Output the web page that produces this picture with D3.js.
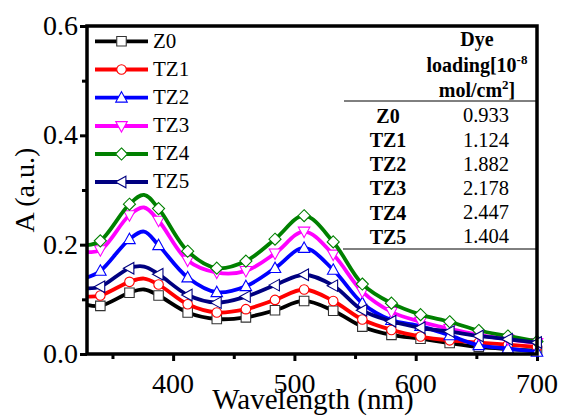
<!DOCTYPE html>
<html><head>
<script src="https://cdn.jsdelivr.net/npm/d3@7"></script>
</head>
<body style="margin:0;background:#fff">
<div id="wrap" style="position:relative;width:561px;height:416px;overflow:hidden">
<svg id="c" width="561" height="416" style="position:absolute;left:0;top:0"></svg>
</div>
<script>
// ---------- data ----------
const wavelengths = [329, 340, 364, 376, 388, 412, 436, 460, 484, 508, 532, 556, 580, 604, 628, 652, 676, 700];
const markerWavelengths = [340, 364, 388, 412, 436, 460, 484, 508, 532, 556, 580, 604, 628, 652, 676, 700];
const seriesNames = ["Z0", "TZ1", "TZ2", "TZ3", "TZ4", "TZ5"];
const Z0  = [0.090, 0.088, 0.112, 0.118, 0.107, 0.076, 0.064, 0.067, 0.080, 0.097, 0.079, 0.050, 0.035, 0.028, 0.020, 0.013, 0.009, 0.006];
const TZ1 = [0.105, 0.107, 0.132, 0.138, 0.127, 0.091, 0.076, 0.082, 0.099, 0.118, 0.097, 0.063, 0.044, 0.032, 0.025, 0.021, 0.017, 0.013];
const TZ2 = [0.140, 0.152, 0.210, 0.224, 0.199, 0.140, 0.113, 0.124, 0.157, 0.194, 0.154, 0.093, 0.062, 0.051, 0.034, 0.016, 0.010, 0.004];
const TZ3 = [0.187, 0.190, 0.254, 0.268, 0.244, 0.171, 0.149, 0.152, 0.184, 0.224, 0.182, 0.114, 0.077, 0.059, 0.046, 0.035, 0.027, 0.020];
const TZ4 = [0.199, 0.207, 0.274, 0.291, 0.266, 0.188, 0.157, 0.170, 0.210, 0.253, 0.205, 0.128, 0.093, 0.072, 0.059, 0.043, 0.033, 0.023];
const TZ5 = [0.120, 0.123, 0.157, 0.160, 0.146, 0.108, 0.094, 0.105, 0.126, 0.145, 0.125, 0.080, 0.060, 0.048, 0.041, 0.033, 0.027, 0.021];
const seriesValues = [Z0, TZ1, TZ2, TZ3, TZ4, TZ5];
const xTicks = [400, 500, 600, 700];
const xMinorTicks = [350, 450, 550, 650];
const yTicks = [0.0, 0.2, 0.4, 0.6];
const yMinorTicks = [0.1, 0.3, 0.5];
const tableSamples = ["Z0", "TZ1", "TZ2", "TZ3", "TZ4", "TZ5"];
const tableLoading = ["0.933", "1.124", "1.882", "2.178", "2.447", "1.404"];

// ---------- styles ----------
const FONT = "'Liberation Serif'";
const colors = ["#000000", "#ff0000", "#0000ff", "#ff00ff", "#008000", "#000080"];
const markerStroke = ["#333333", "#ff0000", "#0000ff", "#ff00ff", "#008000", "#000080"];
const symbols = ["square", "circle", "triUp", "triDown", "diamond", "triLeft"];

const wrap = d3.select("#wrap");
const svg = d3.select("#c");
const L = 87, R = 537, T = 26, B = 354;
const x = d3.scaleLinear().domain([329, 700]).range([L, R]);
const y = d3.scaleLinear().domain([0, 0.6]).range([B, T]);

// HTML text labels positioned by baseline
function addLabel(tx, baseline, size, html, opts = {}) {
  const shift = opts.anchor === "middle" ? "translateX(-50%)" : opts.anchor === "end" ? "translateX(-100%)" : "";
  return wrap.append("div")
    .style("position", "absolute")
    .style("left", tx + "px")
    .style("top", (baseline - 0.8375 * size) + "px")
    .style("font-family", FONT)
    .style("font-size", size + "px")
    .style("line-height", "1")
    .style("white-space", "nowrap")
    .style("color", "#000")
    .style("font-weight", opts.bold ? "bold" : "normal")
    .style("transform", shift)
    .html(html);
}

function markerPath(type, s) {
  const h = s / 2;
  switch (type) {
    case "square": return `M${-h},${-h}H${h}V${h}H${-h}Z`;
    case "circle": return d3.arc()({innerRadius:0, outerRadius:h, startAngle:0, endAngle:2*Math.PI});
    case "triUp": return `M0,${-h*1.1}L${h*1.05},${h*0.8}L${-h*1.05},${h*0.8}Z`;
    case "triDown": return `M0,${h*1.1}L${h*1.05},${-h*0.8}L${-h*1.05},${-h*0.8}Z`;
    case "triLeft": return `M${-h*1.1},0L${h*0.8},${-h*1.05}L${h*0.8},${h*1.05}Z`;
    case "diamond": return `M0,${-h*1.15}L${h*1.15},0L0,${h*1.15}L${-h*1.15},0Z`;
  }
}
const markerSize = [9.5, 9.5, 11, 11, 10.5, 11];

// ---------- axes (tick marks via d3 axes) ----------
function tickAxis(axis, transform) {
  const g = svg.append("g").attr("transform", transform).call(axis);
  g.select(".domain").remove();
  g.selectAll(".tick text").remove();
  g.selectAll(".tick line").attr("stroke-width", 3);
  return g;
}
tickAxis(d3.axisBottom(x).tickValues(xTicks).tickSize(7), `translate(0,${B})`);
tickAxis(d3.axisBottom(x).tickValues(xMinorTicks).tickSize(5), `translate(0,${B})`);
tickAxis(d3.axisLeft(y).tickValues(yTicks).tickSize(7), `translate(${L},0)`);
tickAxis(d3.axisLeft(y).tickValues(yMinorTicks).tickSize(5), `translate(${L},0)`);

xTicks.forEach(v => addLabel(x(v), 393.5, 28, d3.format("d")(v), {anchor: "middle"}));
yTicks.forEach(v => addLabel(78, y(v) + 9.5, 28, d3.format(".1f")(v), {anchor: "end"}));

// ---------- data lines ----------
const line = d3.line().x(d => x(d[0])).y(d => y(d[1])).curve(d3.curveCatmullRom.alpha(0.5));
seriesValues.forEach((vals, i) => {
  const pts = wavelengths.map((w, k) => [w, vals[k]]);
  svg.append("path").attr("d", line(pts)).attr("fill", "none")
    .attr("stroke", colors[i]).attr("stroke-width", 3.8).attr("stroke-linejoin", "round");
  const mk = pts.filter(p => markerWavelengths.includes(p[0]));
  svg.append("g").selectAll("path").data(mk).join("path")
    .attr("d", markerPath(symbols[i], markerSize[i]))
    .attr("transform", d => `translate(${x(d[0])},${y(d[1])})`)
    .attr("fill", "#fff").attr("stroke", markerStroke[i]).attr("stroke-width", 1.1);
});

// ---------- frame ----------
svg.append("rect").attr("x", L).attr("y", T).attr("width", R - L).attr("height", B - T)
  .attr("fill", "none").attr("stroke", "#000").attr("stroke-width", 3.5);

// ---------- legend ----------
const legendRows = [41.3, 69.5, 97.7, 126, 154, 182];
seriesNames.forEach((name, i) => {
  const ry = legendRows[i];
  svg.append("line").attr("x1", 95).attr("x2", 148).attr("y1", ry).attr("y2", ry)
    .attr("stroke", colors[i]).attr("stroke-width", 3.8);
  svg.append("path").attr("d", markerPath(symbols[i], markerSize[i]))
    .attr("transform", `translate(121.5,${ry})`)
    .attr("fill", "#fff").attr("stroke", markerStroke[i]).attr("stroke-width", 1.1);
  addLabel(153, ry + 7, 21, name);
});

// ---------- table ----------
const hx = 477;
const sup = s => `<span style="position:relative;top:-8px;font-size:13px">${s}</span>`;
addLabel(hx, 46, 20, "Dye", {anchor: "middle", bold: true});
addLabel(hx, 71.5, 20, "loading[10" + sup("-8"), {anchor: "middle", bold: true});
addLabel(hx, 96.5, 20, "mol/cm" + sup("2") + "]", {anchor: "middle", bold: true});
svg.append("line").attr("x1", 344).attr("x2", R).attr("y1", 101).attr("y2", 101)
  .attr("stroke", "#000").attr("stroke-width", 1);
tableSamples.forEach((s, i) => {
  const by = 122.5 + i * 24.2;
  addLabel(388, by, 20, s, {anchor: "middle", bold: true});
  addLabel(486, by, 20.5, tableLoading[i], {anchor: "middle"});
});
svg.append("line").attr("x1", 343).attr("x2", R).attr("y1", 249).attr("y2", 249)
  .attr("stroke", "#000").attr("stroke-width", 1);

// ---------- axis titles ----------
addLabel(313, 409, 29, "Wavelength (nm)", {anchor: "middle"});
wrap.append("div")
  .style("position", "absolute").style("left", "25px").style("top", "190px")
  .style("font-family", FONT).style("font-size", "28px").style("line-height", "1")
  .style("white-space", "nowrap").style("color", "#000")
  .style("transform", "translate(-50%,-50%) rotate(-90deg)")
  .text("A (a.u.)");
</script>
</body></html>
